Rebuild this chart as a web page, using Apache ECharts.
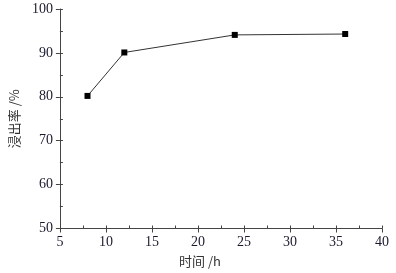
<!DOCTYPE html>
<html>
<head>
<meta charset="utf-8">
<script src="https://cdn.jsdelivr.net/npm/echarts@6/dist/echarts.min.js"></script>
<style>
  html, body { margin: 0; padding: 0; background: #fff; }
  #chart { width: 396px; height: 273px; }
</style>
</head>
<body>
<div id="chart"></div>
<script>
  // 浸出率随时间变化
  const hours = [8, 12, 24, 36]
  const leachRate = [80.2, 90.1, 94.1, 94.3]
  const xName = '时间 /h'
  const yName = '浸出率 /%'

  const points = hours.map((h, i) => [h, leachRate[i]])
  const labelFont = { fontFamily: "'Liberation Serif', 'Times New Roman', serif", fontSize: 14, color: '#1a1a2e' }
  const nameFont = { fontFamily: "'Noto Sans CJK SC'", fontSize: 13, color: '#333' }

  var myChart = echarts.init(document.getElementById('chart'))
  myChart.setOption({
    animation: false,
    grid: { left: 58, right: 14, top: 9, bottom: 44.5, containLabel: false },
    xAxis: [
      {
        type: 'value', min: 5, max: 40, interval: 5,
        name: xName, nameLocation: 'middle', nameGap: 26,
        nameTextStyle: Object.assign({}, nameFont, { padding: [0, 42, 0, 0] }),
        axisLine: { show: true, lineStyle: { color: '#444', width: 1 } },
        axisTick: { show: true, inside: false, length: 4, lineStyle: { color: '#444' } },
        axisLabel: Object.assign({ margin: 7 }, labelFont),
        splitLine: { show: false }
      },
      {
        // 小刻度（朝内）
        type: 'value', min: 5, max: 40, interval: 2.5, position: 'bottom',
        axisLine: { show: false },
        axisTick: { show: true, inside: true, length: 3, lineStyle: { color: '#444' } },
        axisLabel: { show: false },
        splitLine: { show: false }
      }
    ],
    yAxis: [
      {
        type: 'value', min: 50, max: 100, interval: 10,
        name: yName, nameLocation: 'middle', nameGap: 32, nameRotate: 90,
        nameTextStyle: nameFont,
        axisLine: { show: true, lineStyle: { color: '#444', width: 1 } },
        axisTick: { show: true, inside: false, length: 4, lineStyle: { color: '#444' } },
        axisLabel: Object.assign({ margin: 7 }, labelFont),
        splitLine: { show: false }
      },
      {
        type: 'value', min: 50, max: 100, interval: 5, position: 'left',
        axisLine: { show: false },
        axisTick: { show: true, inside: true, length: 3, lineStyle: { color: '#444' } },
        axisLabel: { show: false },
        splitLine: { show: false }
      }
    ],
    series: [
      {
        type: 'line',
        xAxisIndex: 0,
        yAxisIndex: 0,
        data: points,
        symbol: 'rect',
        symbolSize: 6,
        itemStyle: { color: '#000' },
        lineStyle: { color: '#333', width: 1 }
      }
    ]
  })
</script>
</body>
</html>
